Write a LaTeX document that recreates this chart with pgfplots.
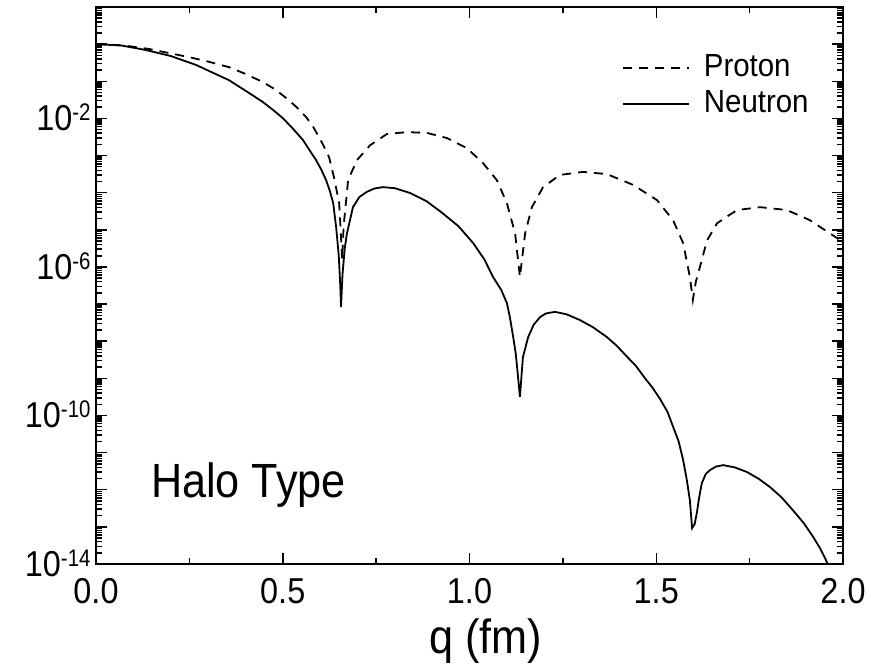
\documentclass[border=0pt]{standalone}
\usepackage{pgfplots}
\pgfplotsset{compat=1.18}
\usepackage{graphicx}
\usepackage{fontspec}
\setmainfont{Liberation Sans}

% slightly condensed text, as in the original figure
\newcommand\tl[1]{\scalebox{0.9}[1]{#1}}
% power of ten with a raised, smaller exponent
\newcommand\pten[1]{\tl{10}\raisebox{10bp}{\fontsize{24bp}{24bp}\selectfont\scalebox{0.85}[1]{#1}}}

% squared form factors of the halo-type density
\pgfplotstableread{
q      F
0.000  1.0
0.070  0.933
0.142  0.741
0.249  0.447
0.300  0.339
0.356  0.240
0.400  0.158
0.447  9.5e-2
0.480  6.0e-2
0.509  3.55e-2
0.535  2.1e-2
0.562  1.10e-2
0.580  6.3e-3
0.597  3.16e-3
0.610  1.78e-3
0.624  9.1e-4
0.637  2.63e-4
0.651  5.25e-5
0.655  1.0e-5
0.659  1.58e-6
0.663  1.26e-5
0.675  2.19e-4
0.699  7.6e-4
0.734  1.9e-3
0.779  3.8e-3
0.833  4.27e-3
0.886  4.07e-3
0.940  2.95e-3
0.993  1.58e-3
1.036  6.3e-4
1.073  2.19e-4
1.100  5.25e-5
1.122  8.1e-6
1.135  5.4e-7
1.149  8.1e-6
1.167  4.07e-5
1.197  1.41e-4
1.242  3.0e-4
1.304  3.63e-4
1.368  3.16e-4
1.438  1.62e-4
1.502  6.3e-5
1.545  1.82e-5
1.572  4.37e-6
1.590  5.4e-7
1.598  1.29e-7
1.606  4.0e-7
1.617  1.0e-6
1.636  5.2e-6
1.663  1.51e-5
1.716  3.4e-5
1.778  4.07e-5
1.850  3.4e-5
1.911  1.82e-5
1.984  6.0e-6
2.000  4.5e-6
}\proton

\pgfplotstableread{
q      F
0.000  1.0
0.070  0.912
0.134  0.692
0.200  0.479
0.268  0.275
0.300  0.195
0.356  0.107
0.400  5.6e-2
0.447  2.75e-2
0.475  1.66e-2
0.500  1.02e-2
0.525  5.6e-3
0.554  2.63e-3
0.570  1.48e-3
0.589  7.59e-4
0.603  4.2e-4
0.616  2.19e-4
0.626  1.12e-4
0.635  5.25e-5
0.643  1.17e-5
0.650  2.0e-6
0.654  3.16e-7
0.656  8.3e-8
0.660  6.3e-7
0.666  3.16e-6
0.672  8.1e-6
0.688  4.07e-5
0.705  7.6e-5
0.725  1.05e-4
0.745  1.29e-4
0.768  1.41e-4
0.800  1.32e-4
0.841  9.8e-5
0.885  5.9e-5
0.925  2.95e-5
0.970  1.26e-5
1.010  4.37e-6
1.040  1.58e-6
1.063  5.37e-7
1.085  2.4e-7
1.100  1.07e-7
1.108  4.5e-8
1.117  1.29e-8
1.124  4.5e-9
1.130  1.07e-9
1.135  3.16e-10
1.143  3.7e-9
1.157  1.29e-8
1.172  2.8e-8
1.189  4.47e-8
1.205  5.6e-8
1.229  6.17e-8
1.260  5.3e-8
1.296  3.7e-8
1.330  2.4e-8
1.368  1.29e-8
1.395  7.4e-9
1.420  3.98e-9
1.445  2.2e-9
1.470  1.0e-9
1.490  5.6e-10
1.510  2.8e-10
1.530  1.26e-10
1.545  5.0e-11
1.560  2.0e-11
1.572  6.3e-12
1.582  1.8e-12
1.590  5.2e-13
1.596  9.3e-14
1.603  1.2e-13
1.609  2.5e-13
1.615  6.3e-13
1.622  1.5e-12
1.632  2.6e-12
1.644  3.4e-12
1.660  4.2e-12
1.679  4.6e-12
1.710  4.0e-12
1.743  3.0e-12
1.775  1.95e-12
1.805  1.17e-12
1.835  6.3e-13
1.866  2.8e-13
1.895  1.26e-13
1.920  5.4e-14
1.940  2.5e-14
1.957  1.12e-14
1.980  3.2e-15
}\neutron

\begin{document}
\begin{tikzpicture}
\begin{axis}[
  at={(0bp,0bp)}, anchor=south west,
  scale only axis,
  width=747bp, height=557bp,
  xmin=0, xmax=2,
  ymode=log, ymin=1e-14, ymax=10,
  clip=true,
  axis line style={line width=2bp},
  tick style={line width=1.5bp, black},
  major tick length=11bp,
  minor tick length=6bp,
  tick align=inside,
  xtick={0,0.5,1,1.5,2},
  xticklabels={\tl{0.0},\tl{0.5},\tl{1.0},\tl{1.5},\tl{2.0}},
  minor xtick={0.25,0.75,1.25,1.75},
  ytick={1e-14,1e-13,1e-12,1e-11,1e-10,1e-9,1e-8,1e-7,1e-6,1e-5,1e-4,1e-3,1e-2,1e-1,1,10},
  yticklabels={\pten{-14},,,,\pten{-10},,,,\pten{-6},,,,\pten{-2},,,},
  minor ytick={
    2e-14,3e-14,4e-14,5e-14,6e-14,7e-14,8e-14,9e-14,
    2e-13,3e-13,4e-13,5e-13,6e-13,7e-13,8e-13,9e-13,
    2e-12,3e-12,4e-12,5e-12,6e-12,7e-12,8e-12,9e-12,
    2e-11,3e-11,4e-11,5e-11,6e-11,7e-11,8e-11,9e-11,
    2e-10,3e-10,4e-10,5e-10,6e-10,7e-10,8e-10,9e-10,
    2e-9,3e-9,4e-9,5e-9,6e-9,7e-9,8e-9,9e-9,
    2e-8,3e-8,4e-8,5e-8,6e-8,7e-8,8e-8,9e-8,
    2e-7,3e-7,4e-7,5e-7,6e-7,7e-7,8e-7,9e-7,
    2e-6,3e-6,4e-6,5e-6,6e-6,7e-6,8e-6,9e-6,
    2e-5,3e-5,4e-5,5e-5,6e-5,7e-5,8e-5,9e-5,
    2e-4,3e-4,4e-4,5e-4,6e-4,7e-4,8e-4,9e-4,
    2e-3,3e-3,4e-3,5e-3,6e-3,7e-3,8e-3,9e-3,
    2e-2,3e-2,4e-2,5e-2,6e-2,7e-2,8e-2,9e-2,
    0.2,0.3,0.4,0.5,0.6,0.7,0.8,0.9,
    2,3,4,5,6,7,8,9},
  tick label style={font=\fontsize{36bp}{40bp}\selectfont},
  xticklabel style={anchor=base, yshift=-39bp},
  yticklabel style={xshift=-2bp, yshift=1bp},
  xlabel={\tl{q (fm)}},
  xlabel style={font=\fontsize{48bp}{52bp}\selectfont, at={(axis description cs:0.522,0)}, anchor=base, yshift=-89bp},
  legend style={draw=none, fill=none, inner sep=0pt,
    at={(axis description cs:0.704,0.919)}, anchor=north west,
    font=\fontsize{32bp}{36bp}\selectfont,
    nodes={inner sep=1bp, text height=23bp, text depth=7bp},
    row sep=4bp},
  legend cell align=left,
  legend image code/.code={\draw[#1] (0bp,0bp) -- (66bp,0bp); \path (79bp,0bp);},
]
\addplot[black, line width=1.8bp, dash pattern=on 9bp off 7bp] table[x=q, y=F] {\proton};
\addlegendentry{\scalebox{0.92}[1]{Proton}}
\addplot[black, line width=1.8bp] table[x=q, y=F] {\neutron};
\addlegendentry{\scalebox{0.92}[1]{Neutron}}
\node[anchor=base west, font=\fontsize{48bp}{52bp}\selectfont, inner sep=0pt]
  at (rel axis cs:0.0736,0.120) {\tl{Halo Type}};
\end{axis}
\pgfresetboundingbox
\path[use as bounding box] (-96bp,-103bp) rectangle (775bp,564bp);
\end{tikzpicture}
\end{document}
